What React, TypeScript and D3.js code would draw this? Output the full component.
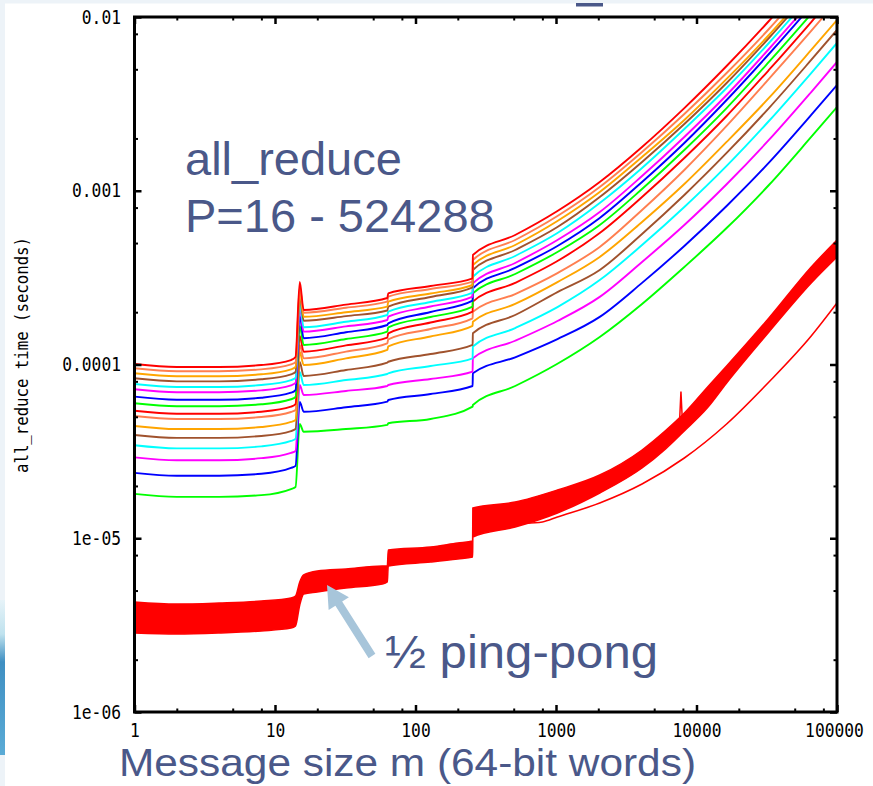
import { useEffect, useRef } from "react";
import * as d3 from "d3";

const msgSizes = [1, 2, 4, 8, 13, 14, 15, 16, 32, 63, 64, 128, 255, 256, 512, 1024, 2048, 4096, 8192, 16384, 32768, 65536, 100000];

// all_reduce time in microseconds, one array per processor count P
const p16 = [18.0, 17.3, 17.3, 17.7, 19.2, 19.7, 45.5, 41.0, 42.5, 44.9, 45.9, 48.6, 57.2, 58.5, 75.2, 101, 144, 223, 364, 610, 1079, 2040, 3030];
const p32 = [23.8, 22.9, 22.9, 23.5, 25.4, 26.1, 60.8, 53.5, 56.8, 61.1, 62.5, 67.6, 75.2, 89.0, 110, 140, 188, 295, 481, 817, 1450, 2729, 4061];
const p64 = [29.2, 28.1, 28.1, 28.9, 31.0, 31.8, 76.2, 66.8, 70.4, 75.2, 76.2, 82.5, 90.9, 108.5, 137, 178, 245, 389, 635, 1090, 1960, 3700, 5510];
const p128 = [34.3, 32.9, 32.9, 33.8, 36.3, 37.3, 90.5, 76.2, 81.4, 88.2, 89.0, 98.0, 108.5, 127, 162, 214, 306, 487, 806, 1390, 2520, 4760, 7090];
const p256 = [39.3, 37.8, 37.8, 38.8, 41.4, 42.5, 103.3, 85.9, 93.0, 102.4, 103.7, 114.9, 129.5, 151.2, 192.7, 261, 350, 564, 945, 1650, 2990, 5660, 8420];
const p512 = [44.3, 42.5, 42.5, 43.7, 46.7, 47.9, 118, 99.3, 108.5, 121.2, 127, 145, 167, 176, 223, 298, 416, 661, 1093, 1910, 3420, 6460, 9610];
const p1024 = [50.5, 48.6, 48.6, 49.9, 53.3, 54.7, 129.5, 108.5, 118.7, 132.5, 139.7, 160.1, 184.5, 201.3, 254.5, 336, 475, 775, 1317, 2360, 4400, 8310, 12400];
const p2048 = [54.2, 52.1, 52.1, 53.5, 57.2, 59.2, 145.9, 118.5, 128.8, 142.7, 151.2, 174.5, 201.3, 230, 295, 394, 571, 920, 1544, 2693, 4955, 9358, 13925];
const p4096 = [59.8, 57.5, 57.5, 59.0, 63.1, 65.0, 166.6, 129.5, 140.2, 154.5, 163.7, 187.7, 215.1, 256.9, 331.8, 444, 635, 1023, 1716, 2990, 5510, 10410, 15490];
const p8192 = [65.3, 62.7, 62.7, 64.4, 68.8, 71.3, 190.2, 141.6, 153.3, 168.8, 172.6, 200.5, 232.9, 274.5, 359.4, 481, 697, 1123, 1884, 3329, 6124, 11570, 17220];
const p16384 = [72.0, 69.2, 69.2, 71.0, 75.9, 78.3, 211.5, 154.5, 165.7, 180.4, 188.4, 215.7, 245.6, 293.3, 383.9, 520.7, 754.5, 1216, 2039, 3557, 6543, 12365, 18395];
const p32768 = [77.2, 74.2, 74.2, 76.2, 81.4, 83.6, 225.9, 163.7, 176.1, 192.7, 201.3, 228.9, 259.0, 320.1, 421.2, 571.3, 850.3, 1353, 2267, 3904, 7086, 13390, 19920];
const p65536 = [83.3, 80.0, 80.0, 82.2, 87.8, 90.5, 247.9, 178.7, 189.9, 204.5, 215.1, 244.6, 278.2, 349.9, 456.0, 618.6, 920.3, 1464, 2422, 4171, 7572, 14300, 21290];
const p131072 = [89.0, 85.5, 85.5, 87.8, 93.8, 96.7, 264.9, 188.4, 200.0, 215.1, 229.9, 256.2, 286.8, 373.8, 487.3, 669.8, 983.5, 1564, 2554, 4400, 7878, 14890, 22140];
const p262144 = [95.1, 91.4, 91.4, 93.8, 100.2, 103.3, 279.3, 198.7, 212.3, 229.9, 245.6, 272.0, 299.6, 399.4, 520.7, 715.6, 1051, 1671, 2765, 4762, 8530, 16115, 23980];
const p524288 = [100.6, 96.7, 96.7, 99.3, 106.1, 110.4, 298.4, 205.9, 221.2, 241.4, 256.9, 283.0, 313.4, 426.8, 556.3, 764.6, 1123, 1786, 2990, 5222, 9484, 17920, 26660];

const allReduceSeries = [p16, p32, p64, p128, p256, p512, p1024, p2048, p4096, p8192, p16384, p32768, p65536, p131072, p262144, p524288];
// gnuplot line colours, starting from the lowest curve
const seriesColors = [
  "#00ff00", "#0000ff", "#ff00ff", "#00ffff", "#a0522d", "#ffa500", "#ff7f50", "#ff0000",
  "#00ff00", "#0000ff", "#ff00ff", "#00ffff", "#a0522d", "#ffa500", "#ff7f50", "#ff0000",
];

// half ping-pong: spread between fastest and slowest run (microseconds)
const ppSizes = [1, 2, 4, 8, 13, 14, 15, 16, 20, 32, 58, 63, 64, 128, 200, 255, 256, 512, 1024, 2048, 4096, 6000, 8192, 12000, 16384, 32768, 65536, 100000];
const ppHigh = [4.30, 4.18, 4.24, 4.35, 4.53, 4.65, 5.60, 6.15, 6.48, 6.66, 6.92, 6.92, 8.56, 8.91, 9.39, 9.64, 14.93, 16.16, 18.96, 23.12, 32.21, 41.5, 52.5, 74.2, 98.0, 185.2, 364.0, 520.7];
const ppLow = [2.85, 2.81, 2.85, 2.93, 3.04, 3.13, 4.13, 4.78, 4.91, 5.17, 5.45, 5.60, 6.92, 7.30, 7.60, 7.80, 10.17, 11.61, 13.98, 18.22, 25.38, 32.6, 41.5, 56.5, 78.3, 153.8, 294.5, 415.6];
// a single slow outlier just below 8192 words
const ppSpikeSizes = [7600, 7750, 7900];
const ppSpike = [49.5, 70.0, 50.5];
// the separate thin ping-pong line at large sizes
const ppTailSizes = [600, 800, 1024, 2048, 4096, 8192, 16384, 32768, 65536, 100000];
const ppTail = [12.2, 12.41, 13.25, 15.96, 20.52, 28.97, 45.46, 79.29, 145.9, 225.9];

const xTickValues = [1, 10, 100, 1000, 10000, 100000];
const xTickLabels = ["1", "10", "100", "1000", "10000", "100000"];
const xMinorTicks = [2, 5, 8, 20, 50, 80, 200, 500, 800, 2000, 5000, 8000, 20000, 50000, 80000];
const yTickValues = [1e-6, 1e-5, 1e-4, 1e-3, 1e-2];
const yTickLabels = ["1e-06", "1e-05", "0.0001", "0.001", "0.01"];
const yMinorTicks = [2e-6, 5e-6, 8e-6, 2e-5, 5e-5, 8e-5, 2e-4, 5e-4, 8e-4, 2e-3, 5e-3, 8e-3];

const width = 873;
const height = 786;
const margin = { top: 17, right: 36, bottom: 74, left: 134.5 };
const slate = "#4a5889";
const mono = "'DejaVu Sans Mono', monospace";
const sans = "'Liberation Sans', Arial, sans-serif";

export default function App() {
  const svgRef = useRef<SVGSVGElement>(null);

  useEffect(() => {
    const svgEl = d3.select(svgRef.current);
    svgEl.selectAll("*").remove();

    const left = margin.left;
    const right = width - margin.right;
    const top = margin.top;
    const bottom = height - margin.bottom;

    const x = d3.scaleLog().domain([1, 100000]).range([left, right]);
    const y = d3.scaleLog().domain([1e-6, 1e-2]).range([bottom, top]);
    const us = (v: number) => v * 1e-6;

    // slide background
    svgEl.append("rect").attr("width", width).attr("height", height).attr("fill", "#fff");
    svgEl.append("rect").attr("width", width).attr("height", 3.5).attr("fill", "#edf3f8");
    svgEl.append("rect").attr("width", 5).attr("height", height).attr("fill", "#edf3f8");
    const defs = svgEl.append("defs");
    const grad = defs
      .append("linearGradient")
      .attr("id", "deco")
      .attr("x1", 0)
      .attr("y1", 0)
      .attr("x2", 0)
      .attr("y2", 1);
    grad.append("stop").attr("offset", "0%").attr("stop-color", "#e6f3f8");
    grad.append("stop").attr("offset", "22%").attr("stop-color", "#bfe2ee");
    grad.append("stop").attr("offset", "40%").attr("stop-color", "#3f8fc2");
    grad.append("stop").attr("offset", "100%").attr("stop-color", "#5aabd6");
    svgEl.append("rect").attr("y", 600).attr("width", 5).attr("height", 155).attr("fill", "url(#deco)");
    svgEl.append("rect").attr("x", 576).attr("y", 3).attr("width", 27).attr("height", 3.5).attr("fill", slate);

    defs
      .append("clipPath")
      .attr("id", "plot-clip")
      .append("rect")
      .attr("x", left)
      .attr("y", top)
      .attr("width", right - left)
      .attr("height", bottom - top);

    const plot = svgEl.append("g").attr("clip-path", "url(#plot-clip)");

    // half ping-pong band
    const band = d3
      .area<number>()
      .x((i) => x(ppSizes[i]))
      .y0((i) => y(us(ppLow[i])))
      .y1((i) => y(us(ppHigh[i])))
      .curve(d3.curveMonotoneX);
    plot
      .append("path")
      .attr("d", band(d3.range(ppSizes.length)))
      .attr("fill", "#ff0000")
      .attr("stroke", "#ff0000")
      .attr("stroke-width", 1.5);

    const spikeLine = d3
      .line<number>()
      .x((i) => x(ppSpikeSizes[i]))
      .y((i) => y(us(ppSpike[i])));
    plot
      .append("path")
      .attr("d", spikeLine(d3.range(ppSpikeSizes.length)))
      .attr("fill", "none")
      .attr("stroke", "#ff0000")
      .attr("stroke-width", 1.5);

    const tailLine = d3
      .line<number>()
      .x((i) => x(ppTailSizes[i]))
      .y((i) => y(us(ppTail[i])))
      .curve(d3.curveMonotoneX);
    plot
      .append("path")
      .attr("d", tailLine(d3.range(ppTailSizes.length)))
      .attr("fill", "none")
      .attr("stroke", "#ff0000")
      .attr("stroke-width", 1.6);

    // all_reduce curves
    const curve = d3
      .line<number>()
      .x((d, i) => x(msgSizes[i]))
      .y((d) => y(us(d)))
      .curve(d3.curveMonotoneX);
    plot
      .selectAll("path.series")
      .data(allReduceSeries)
      .join("path")
      .attr("class", "series")
      .attr("d", (d) => curve(d))
      .attr("fill", "none")
      .attr("stroke", (d, i) => seriesColors[i])
      .attr("stroke-width", 1.9)
      .attr("stroke-linejoin", "round");

    // axes, ticks pointing inwards on all four sides
    const styleAxis = (g: any, w: number) => {
      g.select(".domain").remove();
      g.selectAll("line").attr("stroke", "#000").attr("stroke-width", w);
    };
    const styleLabels = (g: any, labels: string[]) => {
      g.selectAll("text")
        .attr("font-family", mono)
        .attr("font-size", 19)
        .attr("fill", "#000")
        .attr("textLength", (d: any, i: number) => labels[i].length * 9.8)
        .attr("lengthAdjust", "spacingAndGlyphs");
    };

    const xAxis = svgEl
      .append("g")
      .attr("transform", `translate(0,${bottom})`)
      .call(
        d3
          .axisBottom(x)
          .tickValues(xTickValues)
          .tickFormat((d, i) => xTickLabels[i])
          .tickSize(-7)
          .tickPadding(12)
      );
    styleAxis(xAxis, 2.5);
    styleLabels(xAxis, xTickLabels);
    // the last label sits against the slide edge
    xAxis.selectAll("text").filter((d: any) => d === 100000).attr("x", -3);

    const xMinor = svgEl
      .append("g")
      .attr("transform", `translate(0,${bottom})`)
      .call(d3.axisBottom(x).tickValues(xMinorTicks).tickFormat(() => "").tickSize(-3.5));
    styleAxis(xMinor, 2);

    const xTop = svgEl
      .append("g")
      .attr("transform", `translate(0,${top})`)
      .call(d3.axisTop(x).tickValues(xTickValues).tickFormat(() => "").tickSize(-7));
    styleAxis(xTop, 2.5);
    const xTopMinor = svgEl
      .append("g")
      .attr("transform", `translate(0,${top})`)
      .call(d3.axisTop(x).tickValues(xMinorTicks).tickFormat(() => "").tickSize(-3.5));
    styleAxis(xTopMinor, 2);

    const yAxis = svgEl
      .append("g")
      .attr("transform", `translate(${left},0)`)
      .call(
        d3
          .axisLeft(y)
          .tickValues(yTickValues)
          .tickFormat((d, i) => yTickLabels[i])
          .tickSize(-7)
          .tickPadding(13.5)
      );
    styleAxis(yAxis, 2.5);
    styleLabels(yAxis, yTickLabels);

    const yMinor = svgEl
      .append("g")
      .attr("transform", `translate(${left},0)`)
      .call(d3.axisLeft(y).tickValues(yMinorTicks).tickFormat(() => "").tickSize(-3.5));
    styleAxis(yMinor, 2);

    const yRight = svgEl
      .append("g")
      .attr("transform", `translate(${right},0)`)
      .call(d3.axisRight(y).tickValues(yTickValues).tickFormat(() => "").tickSize(-7));
    styleAxis(yRight, 2.5);
    const yRightMinor = svgEl
      .append("g")
      .attr("transform", `translate(${right},0)`)
      .call(d3.axisRight(y).tickValues(yMinorTicks).tickFormat(() => "").tickSize(-3.5));
    styleAxis(yRightMinor, 2);

    // frame
    svgEl
      .append("rect")
      .attr("x", left)
      .attr("y", top)
      .attr("width", right - left)
      .attr("height", bottom - top)
      .attr("fill", "none")
      .attr("stroke", "#000")
      .attr("stroke-width", 3);

    // y axis title
    svgEl
      .append("text")
      .attr("transform", `translate(28,355) rotate(-90)`)
      .attr("text-anchor", "middle")
      .attr("font-family", mono)
      .attr("font-size", 18)
      .attr("textLength", 236)
      .attr("lengthAdjust", "spacingAndGlyphs")
      .text("all_reduce time (seconds)");

    // slide annotations
    svgEl
      .append("text")
      .attr("x", 185)
      .attr("y", 175)
      .attr("font-family", sans)
      .attr("font-size", 47)
      .attr("fill", slate)
      .text("all_reduce");
    svgEl
      .append("text")
      .attr("x", 185)
      .attr("y", 232)
      .attr("font-family", sans)
      .attr("font-size", 47)
      .attr("fill", slate)
      .text("P=16 - 524288");
    svgEl
      .append("text")
      .attr("x", 385)
      .attr("y", 668)
      .attr("font-family", sans)
      .attr("font-size", 46)
      .attr("fill", slate)
      .attr("textLength", 273)
      .attr("lengthAdjust", "spacingAndGlyphs")
      .text("½ ping-pong");
    svgEl
      .append("text")
      .attr("x", 119)
      .attr("y", 776)
      .attr("font-family", sans)
      .attr("font-size", 39)
      .attr("fill", slate)
      .attr("textLength", 577)
      .attr("lengthAdjust", "spacingAndGlyphs")
      .text("Message size m (64-bit words)");

    // arrow pointing at the ping-pong band
    const tail = [372, 656];
    const tip = [327, 585];
    const len = Math.hypot(tip[0] - tail[0], tip[1] - tail[1]);
    const u = [(tip[0] - tail[0]) / len, (tip[1] - tail[1]) / len];
    const n = [-u[1], u[0]];
    const base = [tip[0] - u[0] * 22, tip[1] - u[1] * 22];
    const pt = (p: number[], k: number) => [p[0] + n[0] * k, p[1] + n[1] * k];
    const arrowPts = [pt(tail, 4), pt(base, 4), pt(base, 12), tip, pt(base, -12), pt(base, -4), pt(tail, -4)];
    svgEl
      .append("polygon")
      .attr("points", arrowPts.map((p) => p.join(",")).join(" "))
      .attr("fill", "#a7c5da");
  }, []);

  return (
    <div style={{ position: "absolute", left: 0, top: 0 }}>
      <svg ref={svgRef} width={width} height={height}></svg>
    </div>
  );
}
